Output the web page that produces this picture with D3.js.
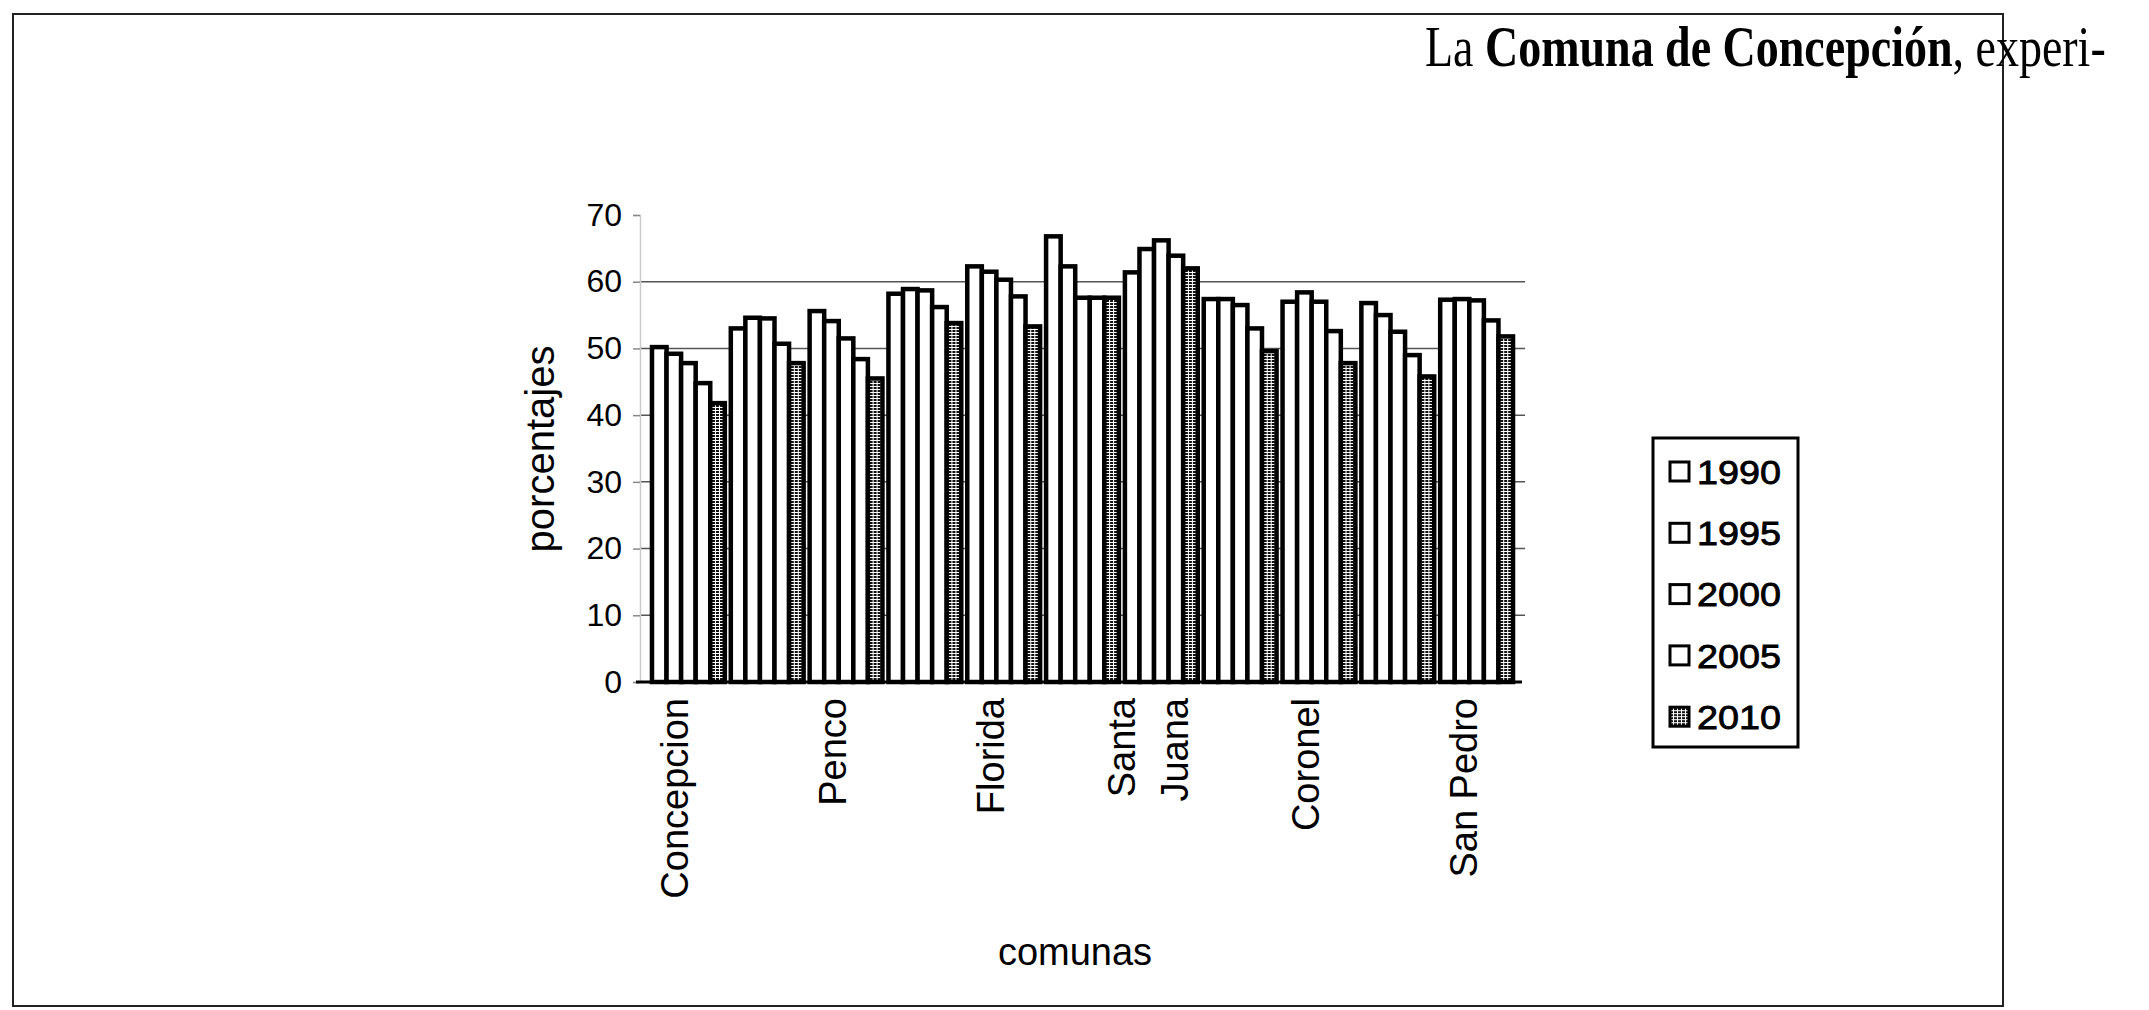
<!DOCTYPE html>
<html>
<head>
<meta charset="utf-8">
<script src="https://cdn.jsdelivr.net/npm/d3@7"></script>
<style>
body { margin: 0; background: #fff; }
svg text { font-family: "Liberation Sans", Arial, sans-serif; fill: #000; }
</style>
</head>
<body>
<svg id="chart" width="2149" height="1010"></svg>
<script>
// communes along the x axis; Excel only printed every second name
var comunas = ["Concepcion", "Talcahuano", "Penco", "Tome", "Florida", "Hualqui",
               "Santa Juana", "Lota", "Coronel", "Chiguayante", "San Pedro"];
var years = ["1990", "1995", "2000", "2005", "2010"];

// percentages
var v1990 = [50.2, 53.0, 55.6, 58.2, 62.3, 66.8, 61.4, 57.4, 57.0, 56.8, 57.3];
var v1995 = [49.2, 54.6, 54.1, 58.9, 61.5, 62.3, 64.9, 57.4, 58.4, 55.0, 57.4];
var v2000 = [47.8, 54.5, 51.5, 58.7, 60.3, 57.6, 66.2, 56.5, 57.0, 52.5, 57.2];
var v2005 = [44.8, 50.7, 48.4, 56.2, 57.8, 57.6, 63.9, 53.0, 52.6, 49.0, 54.2];
var v2010 = [41.8, 47.8, 45.5, 53.8, 53.3, 57.6, 62.0, 49.6, 47.8, 45.8, 51.8];
var yTicks = [0, 10, 20, 30, 40, 50, 60, 70];

var series = [v1990, v1995, v2000, v2005, v2010];
var fills = ['#fff', '#fff', '#fff', '#fff', 'url(#dots)'];

var svg = d3.select('#chart');

var defs = svg.append('defs');
var pat = defs.append('pattern').attr('id', 'dots')
    .attr('width', 4).attr('height', 3).attr('patternUnits', 'userSpaceOnUse');
pat.append('rect').attr('width', 4).attr('height', 3).attr('fill', '#fff');
pat.append('rect').attr('width', 3).attr('height', 2).attr('fill', '#111');

// page frame from the scan
svg.append('rect')
    .attr('x', 13).attr('y', 14).attr('width', 1990).attr('height', 992)
    .attr('fill', 'none').attr('stroke', '#222').attr('stroke-width', 2);

// running text of the page above the chart (scan is stretched vertically)
var head = svg.append('text')
    .attr('transform', 'translate(1425,66) scale(1,1.25)')
    .style('font-family', '"Liberation Serif", "Times New Roman", serif')
    .style('font-size', '46px');
head.append('tspan').text('La ');
head.append('tspan').style('font-weight', 'bold').text('Comuna de Concepción');
head.append('tspan').text(', experi-');

var x0 = d3.scaleBand().domain(comunas).range([640, 1525])
    .paddingInner(0.076).paddingOuter(0.152);
var x1 = d3.scaleBand().domain(years).range([0, x0.bandwidth()]);
var y = d3.scaleLinear().domain([0, 70]).range([682, 215]);

// gridlines
svg.append('g').selectAll('line')
    .data(yTicks.filter(function (d) {return d > 0 && d < 70;}))
    .enter().append('line')
    .attr('x1', 640).attr('x2', 1525)
    .attr('y1', function (d) {return y(d);})
    .attr('y2', function (d) {return y(d);})
    .attr('stroke', '#555').attr('stroke-width', 1.5);

// y axis
var yAxis = svg.append('g')
    .attr('transform', 'translate(640,0)')
    .call(d3.axisLeft(y).tickValues(yTicks).tickSize(7).tickPadding(11));
yAxis.select('.domain').attr('stroke', '#ccc').attr('stroke-width', 1.5);
yAxis.selectAll('.tick line').attr('stroke', '#888').attr('stroke-width', 1.5);
yAxis.selectAll('.tick text')
    .style('font-size', '32px')
    .style('font-family', '"Liberation Sans", Arial, sans-serif')
    .attr('fill', '#000');

// bars
svg.append('g').selectAll('g').data(comunas).enter().append('g')
    .attr('transform', function (d) {return 'translate(' + x0(d) + ',0)';})
    .each(function (c, i) {
        d3.select(this).selectAll('rect').data(years).enter().append('rect')
            .attr('x', function (yr) {return x1(yr);})
            .attr('width', x1.bandwidth())
            .attr('y', function (yr, j) {return y(series[j][i]);})
            .attr('height', function (yr, j) {return y(0) - y(series[j][i]);})
            .attr('fill', function (yr, j) {return fills[j];})
            .attr('stroke', '#000')
            .attr('stroke-width', 4.5);
    });

// x axis line
svg.append('line')
    .attr('x1', 636).attr('x2', 1522)
    .attr('y1', y(0)).attr('y2', y(0))
    .attr('stroke', '#000').attr('stroke-width', 3);

// category labels, every second one, rotated
var labels = svg.append('g').selectAll('g')
    .data(comunas.filter(function (d, i) {return i % 2 === 0;}))
    .enter().append('g')
    .attr('transform', function (d) {
        return 'translate(' + (x0(d) + x0.bandwidth() / 2) + ',698) rotate(-90)';
    });
labels.each(function (d) {
    var lines = (d.indexOf(' ') > 0 && d.length > 10) ? d.split(' ') : [d];
    var g = d3.select(this);
    lines.forEach(function (t, k) {
        g.append('text')
            .attr('text-anchor', 'end')
            .attr('y', (k - (lines.length - 1) / 2) * 53)
            .style('font-size', '38px')
            .text(t);
    });
});

// axis titles
svg.append('text')
    .attr('transform', 'translate(540,449) rotate(-90)')
    .attr('text-anchor', 'middle')
    .attr('dy', '0.35em')
    .style('font-size', '40px')
    .text('porcentajes');

svg.append('text')
    .attr('x', 1075).attr('y', 965)
    .attr('text-anchor', 'middle')
    .style('font-size', '38px')
    .text('comunas');

// legend
var legend = svg.append('g');
legend.append('rect')
    .attr('x', 1653).attr('y', 438).attr('width', 145).attr('height', 309)
    .attr('fill', '#fff').attr('stroke', '#000').attr('stroke-width', 3);
var items = legend.selectAll('g.item').data(years).enter().append('g')
    .attr('class', 'item')
    .attr('transform', function (d, i) {return 'translate(1670,' + (472 + i * 61.3) + ')';});
items.append('rect')
    .attr('x', 0).attr('y', -10).attr('width', 19).attr('height', 19)
    .attr('fill', function (d, i) {return fills[i];})
    .attr('stroke', '#000').attr('stroke-width', 3);
items.append('text')
    .attr('x', 27).attr('dy', '0.36em')
    .attr('textLength', 84).attr('lengthAdjust', 'spacingAndGlyphs')
    .style('font-size', '33px')
    .style('stroke', '#000').style('stroke-width', 0.8)
    .text(function (d) {return d;});
</script>
</body>
</html>
